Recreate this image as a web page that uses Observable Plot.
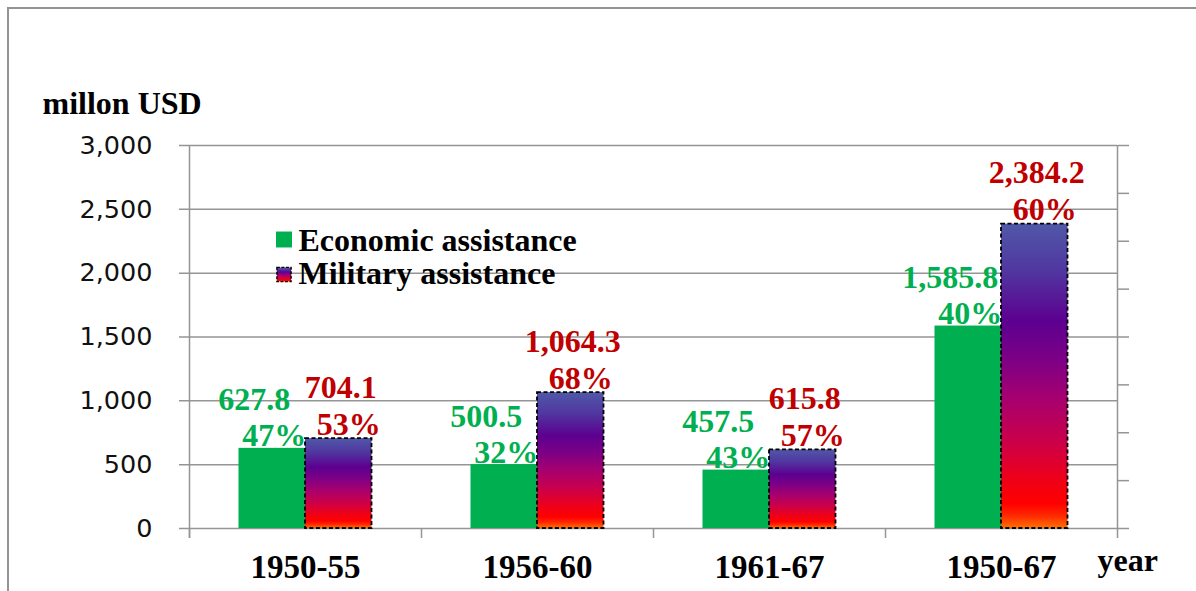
<!DOCTYPE html>
<html>
<head>
<meta charset="utf-8">
<script src="https://cdn.jsdelivr.net/npm/d3@7"></script>
<script src="https://cdn.jsdelivr.net/npm/@observablehq/plot@0.6"></script>
<style>
  html, body { margin: 0; padding: 0; background: #fff; overflow: hidden; }
  #wrap { position: relative; width: 1196px; height: 591px; }
  #border { position: absolute; left: 7px; top: 7px; width: 1300px; height: 700px;
            border-left: 2px solid #939393; border-top: 2px solid #939393; }
  #chart { position: absolute; left: 0; top: 0; }
</style>
</head>
<body>
<div id="wrap">
  <div id="border"></div>
  <div id="chart"></div>
</div>
<script>
// US assistance by period, million USD
const categories = ["1950-55", "1956-60", "1961-67", "1950-67"];
const economic = [627.8, 500.5, 457.5, 1585.8];
const military = [704.1, 1064.3, 615.8, 2384.2];
const yTicks = [0, 500, 1000, 1500, 2000, 2500, 3000];
const rightTicks = [0, 375, 750, 1125, 1500, 1875, 2250, 2625, 3000];
const legendLabels = ["Economic assistance", "Military assistance"];
const yTitle = "millon USD";
const xTitle = "year";

const rows = categories.map((category, i) => ({
  category,
  economic: economic[i],
  military: military[i],
  total: economic[i] + military[i]
}));

const green = "#00b050";
const red = "#c00000";
const grid = "#959595";
const serif = "'Liberation Serif', 'Times New Roman', serif";
const sans = "'DejaVu Sans', Verdana, sans-serif";

const width = 1196, height = 591;
const marginLeft = 189, marginRight = 79, marginTop = 145, marginBottom = 63;
const step = (width - marginLeft - marginRight) / categories.length;
const half = step / 2;
const barW = 66.5;

const fmt = d3.format(",.1f");
const pct = (v, t) => Math.round(100 * v / t) + "%";

const labelStyle = { fontSize: 32, fontWeight: "bold", fontFamily: serif, lineAnchor: "bottom" };

const svg = Plot.plot({
  width, height, marginLeft, marginRight, marginTop, marginBottom,
  style: { background: "transparent", overflow: "visible" },
  x: { domain: categories, padding: 0 },
  y: { domain: [0, 3000] },
  marks: [
    // horizontal grid with left tick stubs
    Plot.ruleY(yTicks, { stroke: grid, strokeWidth: 1.5, insetLeft: -10 }),
    // secondary right axis ticks
    Plot.axisY(rightTicks, { anchor: "right", tickSize: 11, tickFormat: () => "", stroke: grid, strokeWidth: 1.5, label: null }),
    // left axis labels
    Plot.axisY(yTicks, { anchor: "left", tickSize: 0, tickPadding: 37, tickFormat: d3.format(","),
      fontSize: 25.5, fontFamily: sans, fill: "#111", label: null }),
    // left / right axis lines and category separators
    Plot.ruleX([categories[0]], { x: d => d, dx: -half, y1: 3000, y2: 0, insetBottom: -10, stroke: grid, strokeWidth: 1.5 }),
    Plot.ruleX([categories[categories.length - 1]], { x: d => d, dx: half, y1: 3000, y2: 0, insetBottom: -10, stroke: grid, strokeWidth: 1.5 }),
    Plot.ruleX(categories, { x: d => d, dx: -half, y1: 0, y2: 0, insetBottom: -10, stroke: grid, strokeWidth: 1.5 }),
    // category labels
    Plot.axisX({ tickSize: 0, tickPadding: 26, fontSize: 33, fontWeight: "bold", fontFamily: serif, fill: "#000", label: null }),
    // bars
    Plot.barY(rows, { x: "category", y: "economic", fill: green, insetLeft: half - barW, insetRight: half }),
    Plot.barY(rows, { x: "category", y: "military", fill: "url(#milGrad)", stroke: "#000", strokeWidth: 1.8,
      strokeDasharray: "4,2.5", insetLeft: half, insetRight: half - barW }),
    // value labels
    Plot.text(rows, { x: "category", y: "economic", text: d => fmt(d.economic), dx: -barW / 2 - 18, dy: -38, fill: green, ...labelStyle }),
    Plot.text(rows, { x: "category", y: "economic", text: d => pct(d.economic, d.total), dx: -barW / 2 + 2, dy: -2, fill: green, ...labelStyle }),
    Plot.text(rows, { x: "category", y: "military", text: d => fmt(d.military), dx: barW / 2 + 2, dy: -41, fill: red, ...labelStyle }),
    Plot.text(rows, { x: "category", y: "military", text: d => pct(d.military, d.total), dx: barW / 2 + 10, dy: -4, fill: red, ...labelStyle }),
    // legend
    Plot.dot([legendLabels[0]], { frameAnchor: "top-left", dx: 94.5, dy: 94, symbol: "square", r: 9, fill: green }),
    Plot.dot([legendLabels[1]], { frameAnchor: "top-left", dx: 94.5, dy: 129, symbol: "square", r: 8, fill: "url(#milGrad)",
      stroke: "#000", strokeWidth: 1.4, strokeDasharray: "3,1.5" }),
    Plot.text([legendLabels[0]], { frameAnchor: "top-left", dx: 109, dy: 105, textAnchor: "start", fill: "#000", ...labelStyle }),
    Plot.text([legendLabels[1]], { frameAnchor: "top-left", dx: 109, dy: 138, textAnchor: "start", fill: "#000", ...labelStyle }),
    // axis titles
    Plot.text([yTitle], { frameAnchor: "top-left", dx: -147, dy: -32, textAnchor: "start", fill: "#000", ...labelStyle }),
    Plot.text([xTitle], { frameAnchor: "bottom-right", dx: -20, dy: 42, textAnchor: "start", fill: "#000", ...labelStyle })
  ]
});

// vertical gradient used by the military bars
const defs = d3.select(svg).insert("defs", ":first-child");
const grad = defs.append("linearGradient")
  .attr("id", "milGrad").attr("x1", 0).attr("y1", 0).attr("x2", 0).attr("y2", 1);
[
  [0, "#5058a8"], [0.15, "#5038a0"], [0.32, "#5c0090"], [0.45, "#7d0085"],
  [0.58, "#a8006e"], [0.72, "#cc0048"], [0.84, "#ee0018"], [0.92, "#ff0000"],
  [0.96, "#ff2a00"], [1, "#ff7000"]
].forEach(([o, c]) => grad.append("stop").attr("offset", o).attr("stop-color", c));

document.getElementById("chart").appendChild(svg);
</script>
</body>
</html>
